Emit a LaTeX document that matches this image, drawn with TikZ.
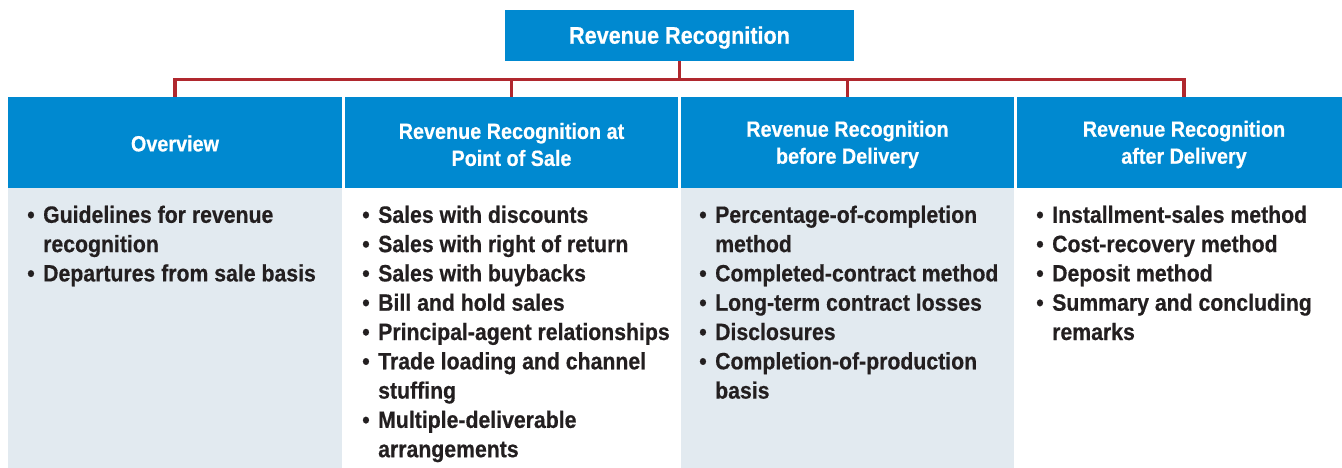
\documentclass[tikz,border=0pt]{standalone}
\usepackage{fontspec}
\setmainfont[FakeStretch=0.9, BoldFeatures={FakeBold=0.5}]{Liberation Sans}
\definecolor{hblue}{HTML}{0089D0}
\definecolor{lbody}{HTML}{E2EAF0}
\definecolor{conn}{HTML}{B0282E}
\definecolor{txt}{HTML}{231F20}
\newcommand\bul{\llap{\textbullet\hspace{8.5pt}}}
\newcommand\hstrut{\rule{0pt}{20pt}}
\begin{document}
\begin{tikzpicture}[x=1pt,y=-1pt,
  titlebox/.style={fill=hblue, text=white, inner sep=0, minimum width=349pt, minimum height=51pt,
    font=\bfseries\fontsize{24}{28}\selectfont},
  hdr/.style={fill=hblue, text=white, inner sep=0, minimum height=91pt, align=center,
    font=\bfseries\fontsize{22}{27}\selectfont},
  bodybg/.style={inner sep=0, minimum height=280pt, anchor=north},
  items/.style={text=txt, inner sep=0, anchor=north west, align=left,
    font=\bfseries\fontsize{23.6}{29.3}\selectfont},
  bus/.style={draw=conn, line width=3.5pt}]
\useasboundingbox (0,0) rectangle (1342,468);

\node[titlebox] (top) at (679.5,35.5) {\rule{0pt}{21.5pt}Revenue Recognition};

\node[hdr, minimum width=334pt] (h1) at (175,142.5) {\rule{0pt}{18pt}Overview};
\node[hdr, minimum width=333pt] (h2) at (511.5,142.5) {\hstrut Revenue Recognition at\\Point of Sale};
\node[hdr, minimum width=333pt] (h3) at (847.5,142.5) {\hstrut Revenue Recognition\\before Delivery};
\node[hdr, minimum width=334pt] (h4) at (1184,142.5) {\hstrut Revenue Recognition\\after Delivery};

\node[bodybg, fill=lbody, minimum width=334pt] (b1) at (h1.south) {};
\node[bodybg, fill=white, minimum width=333pt] (b2) at (h2.south) {};
\node[bodybg, fill=lbody, minimum width=333pt] (b3) at (h3.south) {};
\node[bodybg, fill=white, minimum width=334pt] (b4) at (h4.south) {};

\node[items] (t1) at (43,205.5) {\bul Guidelines for revenue\\recognition\\\bul Departures from sale basis};
\node[items] (t2) at (378,205.5) {\bul Sales with discounts\\\bul Sales with right of return\\\bul Sales with buybacks\\\bul Bill and hold sales\\\bul Principal-agent relationships\\\bul Trade loading and channel\\stuffing\\\bul Multiple-deliverable\\arrangements};
\node[items] (t3) at (715,205.5) {\bul Percentage-of-completion\\method\\\bul Completed-contract method\\\bul Long-term contract losses\\\bul Disclosures\\\bul Completion-of-production\\basis};
\node[items] (t4) at (1052,205.5) {\bul Installment-sales method\\\bul Cost-recovery method\\\bul Deposit method\\\bul Summary and concluding\\remarks};

\coordinate (bj) at (679.5,79.5);
\draw[bus] (top.south) -- (bj);
\draw[bus] (h1.north) |- (bj) -| (h4.north);
\draw[bus] (h2.north) -- (h2.north |- bj);
\draw[bus] (h3.north) -- (h3.north |- bj);
\end{tikzpicture}
\end{document}
